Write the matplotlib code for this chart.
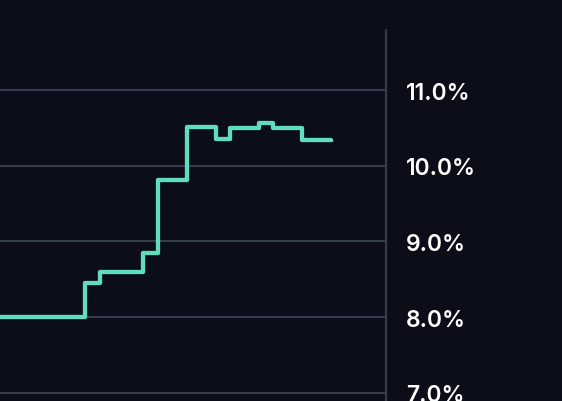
import matplotlib
matplotlib.use("Agg")
import matplotlib.pyplot as plt
from matplotlib.ticker import FuncFormatter

# Data (month index, rate %)
months = [-1, 6, 7, 10, 11, 13, 15, 16, 18, 19, 21, 23]
rates = [8.00, 8.45, 8.60, 8.85, 9.81, 10.51, 10.35, 10.50, 10.57, 10.50, 10.34, 10.31]
yticks = [7.0, 8.0, 9.0, 10.0, 11.0]

BG = "#0b0d18"
GRID = "#333b50"
LINE = "#62dcbf"

fig = plt.figure(figsize=(5.62, 4.02), dpi=100, facecolor=BG)
ax = fig.add_axes([0, 0, 385.5 / 562, 1])
ax.set_facecolor(BG)

ax.step(months, rates, where="post", color=LINE, lw=3.1, solid_joinstyle="round",
        solid_capstyle="butt", zorder=3)

ax.set_xlim(0.124, 26.73)
ax.set_ylim(6.89, 12.205)
ax.set_yticks(yticks)
ax.yaxis.tick_right()
ax.yaxis.set_major_formatter(FuncFormatter(lambda v, p: f"{v:.1f}%"))
ax.tick_params(axis="y", length=0, pad=14.5, labelsize=16.5, labelcolor="white")
for lab in ax.get_yticklabels():
    lab.set_family(["Inter", "DejaVu Sans"])
    lab.set_fontweight("semibold")
ax.set_xticks([])
ax.grid(axis="y", color=GRID, lw=1.5, zorder=1)

for s in ["top", "left", "bottom"]:
    ax.spines[s].set_visible(False)
ax.spines["right"].set_color(GRID)
ax.spines["right"].set_linewidth(1.6)
ax.spines["right"].set_bounds(6.8, 11.8)

fig.savefig("out.png", dpi=100, facecolor=BG)
